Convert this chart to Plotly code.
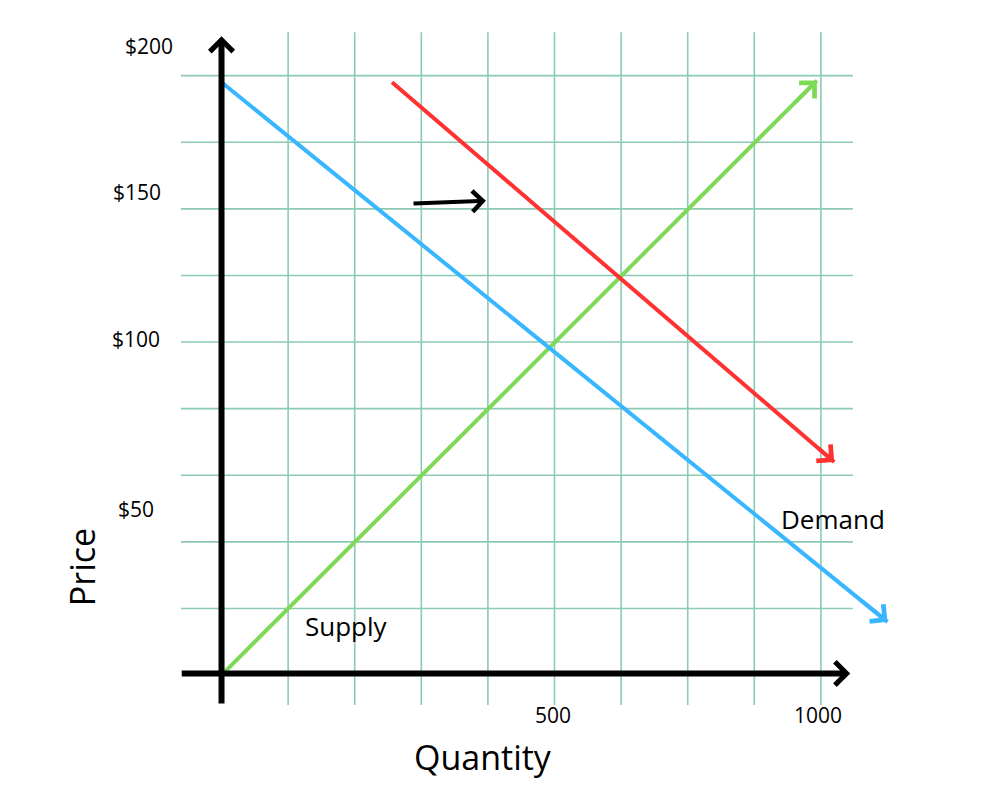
import plotly.graph_objects as go

# ---------------- data ----------------
quantity_tick_labels = ["500", "1000"]
quantity_tick_vals = [498, 896]
price_tick_labels = ["$200", "$150", "$100", "$50"]
price_tick_vals = [189, 145, 101, 50]

grid_quantity = [100, 200, 300, 400, 500, 600, 700, 800, 900]
grid_price = [20, 40, 60, 80, 100, 120, 140, 160, 180]

demand_q = [0, 1000]
demand_p = [178, 16]
supply_q = [0, 894]
supply_p = [0, 178.5]
new_demand_q = [256, 920]
new_demand_p = [178, 64]
shift_q = [286, 397]
shift_p = [141.6, 142.4]

# ---------------- styles ----------------
FONT = "Open Sans"
GRID_COLOR = "#8ccab4"
BLUE = "#38b6ff"
GREEN = "#7ed957"
RED = "#ff3131"
BLACK = "#000000"
TEXT = "#000000"

# page has an 8px body margin; ranges are chosen so the drawing lands where the reference has it
X_RANGE = [-320.6, 1158.4]
Y_RANGE = [-42.3, 200.3]

fig = go.Figure()

# grid (bounded, not full-width)
shapes = []
for q in grid_quantity:
    shapes.append(dict(type="line", xref="x", yref="y", x0=q, x1=q, y0=-9, y1=193,
                       line=dict(color=GRID_COLOR, width=1.6), layer="below"))
for p in grid_price:
    shapes.append(dict(type="line", xref="x", yref="y", x0=-61, x1=948, y0=p, y1=p,
                       line=dict(color=GRID_COLOR, width=1.6), layer="below"))

annotations = []

def arrowhead(q, p, color, width, size):
    # arrowhead at last point, oriented along last segment
    dq = q[-1] - q[-2]
    dp = p[-1] - p[-2]
    annotations.append(dict(x=q[-1], y=p[-1], ax=q[-1] - 0.04 * dq, ay=p[-1] - 0.04 * dp,
                            xref="x", yref="y", axref="x", ayref="y", text="",
                            showarrow=True, arrowhead=4, arrowsize=size, arrowwidth=width,
                            arrowcolor=color, standoff=0))

# axes (black, thick, with arrowheads)
annotations.append(dict(x=0, y=191.8, ax=0, ay=-9, xref="x", yref="y", axref="x", ayref="y",
                        text="", showarrow=True, arrowhead=4, arrowsize=0.75, arrowwidth=6,
                        arrowcolor=BLACK, standoff=0))
annotations.append(dict(x=944, y=0.5, ax=-62, ay=0.5, xref="x", yref="y", axref="x", ayref="y",
                        text="", showarrow=True, arrowhead=4, arrowsize=0.75, arrowwidth=6,
                        arrowcolor=BLACK, standoff=0))

# curves
for q, p, c, n in [(supply_q, supply_p, GREEN, "Supply"),
                   (demand_q, demand_p, BLUE, "Demand"),
                   (new_demand_q, new_demand_p, RED, "New demand")]:
    fig.add_trace(go.Scatter(x=q, y=p, mode="lines", name=n,
                             line=dict(color=c, width=4), hoverinfo="skip", showlegend=False))
    arrowhead(q, p, c, 4, 1.05)

# shift arrow
annotations.append(dict(x=shift_q[1], y=shift_p[1], ax=shift_q[0], ay=shift_p[0],
                        xref="x", yref="y", axref="x", ayref="y", text="",
                        showarrow=True, arrowhead=4, arrowsize=1.0, arrowwidth=4,
                        arrowcolor=BLACK, standoff=0))

# tick labels
for lab, v in zip(quantity_tick_labels, quantity_tick_vals):
    annotations.append(dict(x=v, y=-12, xref="x", yref="y", text=lab, showarrow=False,
                            xanchor="center", yanchor="middle",
                            font=dict(family=FONT, size=21, color=TEXT)))
price_label_x = [-109, -127, -128, -128]
for lab, v, xx in zip(price_tick_labels, price_tick_vals, price_label_x):
    annotations.append(dict(x=xx, y=v, xref="x", yref="y", text=lab, showarrow=False,
                            xanchor="center", yanchor="middle",
                            font=dict(family=FONT, size=21, color=TEXT)))

# axis titles
annotations.append(dict(x=392.6, y=-24.6, xref="x", yref="y", text="Quantity", showarrow=False,
                        xanchor="center", yanchor="middle",
                        font=dict(family=FONT, size=34, color=TEXT)))
annotations.append(dict(x=-209.5, y=32.4, xref="x", yref="y", text="Price", showarrow=False,
                        xanchor="center", yanchor="middle", textangle=-90,
                        font=dict(family=FONT, size=34, color=TEXT)))

# curve labels
annotations.append(dict(x=918, y=47, xref="x", yref="y", text="Demand", showarrow=False,
                        xanchor="center", yanchor="middle",
                        font=dict(family=FONT, size=26, color=TEXT)))
annotations.append(dict(x=187, y=14.6, xref="x", yref="y", text="Supply", showarrow=False,
                        xanchor="center", yanchor="middle",
                        font=dict(family=FONT, size=26, color=TEXT)))

fig.update_layout(
    width=985, height=808, autosize=False,
    margin=dict(l=0, r=0, t=0, b=0),
    paper_bgcolor="white", plot_bgcolor="white",
    xaxis=dict(range=X_RANGE, visible=False, fixedrange=True),
    yaxis=dict(range=Y_RANGE, visible=False, fixedrange=True),
    shapes=shapes, annotations=annotations, showlegend=False,
)

fig.write_html("out.html")
